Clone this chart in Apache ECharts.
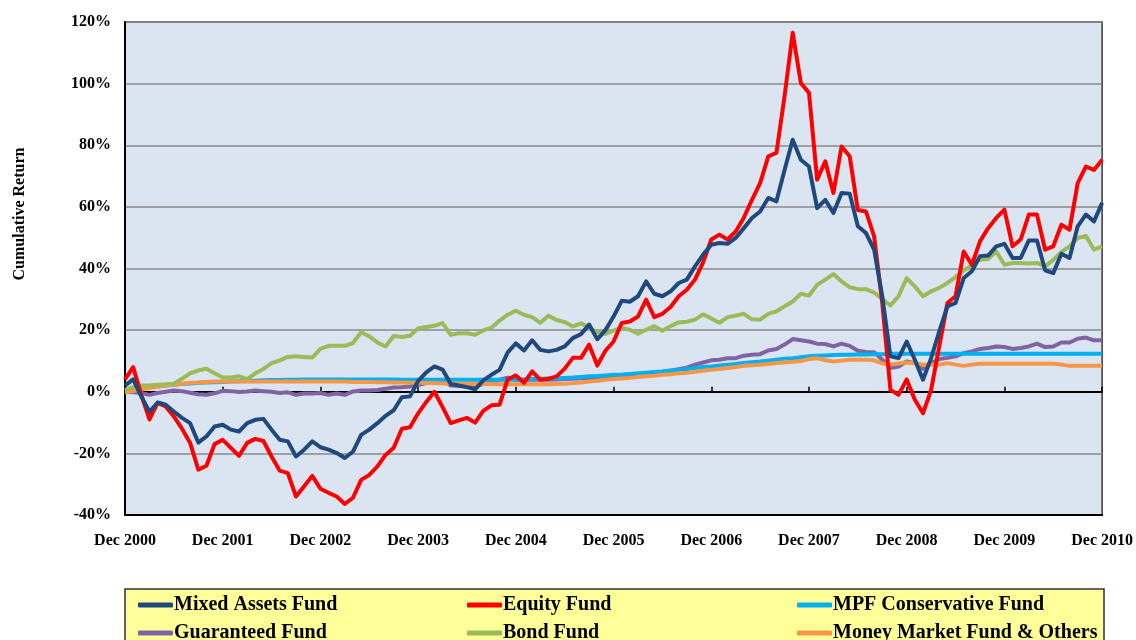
<!DOCTYPE html>
<html>
<head>
<meta charset="utf-8">
<script src="https://cdn.jsdelivr.net/npm/echarts@6/dist/echarts.min.js"></script>
<style>html,body{margin:0;padding:0;background:#fff;}#chart{width:1136px;height:640px;}</style>
</head>
<body>
<div id="chart"></div>
<script>
// Month labels Dec 2000 .. Dec 2010
const monthNames = ['Jan','Feb','Mar','Apr','May','Jun','Jul','Aug','Sep','Oct','Nov','Dec'];
const categories = [];
for (let i = 0; i <= 120; i++) {
  const m = (11 + i) % 12;
  const y = 2000 + Math.floor((11 + i) / 12);
  categories.push(monthNames[m] + ' ' + y);
}

const mixedAssets = [2, 4, -1.5, -6.5, -3.5, -4.2, -6.4, -8.5, -10.2, -16.5,
  -14.5, -11.3, -10.7, -12.3, -12.9, -10.2, -9.1, -8.8, -12.3, -15.6,
  -16.1, -21, -18.8, -16.1, -18, -18.8, -19.9, -21.5, -19.4, -14,
  -12.3, -10.2, -7.8, -6, -1.8, -1.5, 3.5, 6.3, 8.2, 7.2,
  2.5, 2, 1.5, 0.8, 3.7, 5.5, 7.1, 12.8, 15.7, 13.4,
  16.7, 13.6, 13.1, 13.6, 14.7, 17.4, 18.7, 21.8, 17, 20,
  24.4, 29.5, 29.2, 31, 35.8, 31.8, 31, 32.6, 35.3, 36.4,
  40.7, 44.5, 47.7, 48.3, 48, 49.9, 53.1, 56.4, 58.5, 62.9,
  61.8, 72, 81.8, 75.3, 73.1, 59.6, 62.3, 58, 64.5, 64.3,
  53.7, 51.5, 46.1, 31, 11.5, 10.9, 16.3, 10.4, 3.9, 10.9,
  19.6, 27.7, 28.8, 36.9, 39.1, 44, 44.2, 47.2, 48, 43.4,
  43.4, 49.1, 49.1, 39.4, 38.5, 44.8, 43.4, 53.7, 57.5, 55.3,
  61.3];

const equity = [4, 8, -1, -9, -3.6, -4.8, -8, -12, -16.6, -25.3,
  -24, -17, -15.6, -18.2, -20.8, -16.6, -15.3, -16, -21, -25.6,
  -26.4, -34, -30.7, -27.3, -31.5, -32.8, -34, -36.4, -34.4, -28.6,
  -27, -24.2, -20.5, -18.2, -12, -11.5, -7, -3.3, 0, -5,
  -10.2, -9.3, -8.5, -10, -6.2, -4.4, -4.2, 4, 5.3, 2.9,
  6.6, 3.9, 4.2, 5, 7.5, 11, 11, 15.3, 8.5, 13.3,
  16.3, 22.3, 22.8, 24.4, 29.9, 24.2, 25.3, 27.5, 31, 33.1,
  36.4, 42, 49.4, 51, 49.4, 52, 56.5, 62.3, 67.7, 76.4,
  77.5, 95.9, 116.5, 100.2, 97, 68.8, 74.8, 64.5, 79.6, 76.4,
  59, 58.5, 50.4, 28.8, 0.6, -1, 4, -2.6, -7, 0.6,
  14.7, 28.8, 31, 45.5, 41.2, 48.8, 53.1, 56.4, 59.1, 47.2,
  49.4, 57.5, 57.5, 46.1, 47.2, 54.2, 52.6, 67.7, 73.1, 72,
  75.3];

const mpfConservative = [0.5, 0.8, 1.2, 1.5, 1.8, 2.0, 2.3, 2.5, 2.7, 2.9,
  3.0, 3.1, 3.2, 3.3, 3.4, 3.5, 3.6, 3.7, 3.8, 3.8,
  3.9, 3.9, 4.0, 4.0, 4.0, 4.0, 4.0, 4.0, 4.0, 4.0,
  4.0, 4.0, 4.0, 4.0, 3.9, 3.9, 3.9, 3.9, 3.9, 3.9,
  3.9, 3.9, 3.9, 3.9, 3.9, 3.9, 3.9, 3.9, 3.9, 4.0,
  4.1, 4.2, 4.3, 4.4, 4.5, 4.6, 4.8, 5.0, 5.1, 5.3,
  5.5, 5.6, 5.8, 6.0, 6.2, 6.4, 6.6, 6.9, 7.1, 7.4,
  7.7, 8.0, 8.2, 8.5, 8.8, 9.0, 9.3, 9.6, 9.8, 10.1,
  10.4, 10.7, 10.9, 11.2, 11.5, 11.7, 11.8, 11.9, 12.0, 12.0,
  12.1, 12.1, 12.2, 12.2, 12.3, 12.3, 12.3, 12.3, 12.3, 12.3,
  12.3, 12.3, 12.3, 12.3, 12.3, 12.3, 12.3, 12.3, 12.3, 12.3,
  12.3, 12.3, 12.3, 12.3, 12.3, 12.3, 12.3, 12.3, 12.3, 12.3,
  12.3];

const guaranteed = [0, -0.2, -0.4, -1, -0.4, 0, 0.4, 0.2, -0.3, -0.8,
  -1, -0.5, 0.3, 0.2, -0.1, 0.1, 0.4, 0.2, 0, -0.4,
  -0.2, -1, -0.6, -0.6, -0.4, -1, -0.6, -1, 0.1, 0.4,
  0.4, 0.6, 1.0, 1.4, 1.5, 1.7, 2.2, 2.8, 3.4, 3.9,
  2.0, 1.9, 1.7, 1.9, 2.5, 3.2, 3.9, 4.6, 3.9, 3.9,
  3.9, 3.9, 3.9, 4.0, 4.1, 4.2, 4.4, 4.5, 4.6, 4.8,
  5.0, 5.1, 5.3, 5.5, 5.8, 6.0, 6.4, 6.8, 7.3, 7.8,
  8.8, 9.5, 10.2, 10.4, 10.9, 10.9, 11.7, 12.0, 12.2, 13.4,
  13.9, 15.3, 17.1, 16.7, 16.3, 15.6, 15.5, 14.7, 15.6, 14.9,
  13.3, 12.9, 12.8, 10.4, 7.7, 8.2, 9.8, 9.3, 7.4, 9.3,
  10.6, 11.0, 11.5, 12.5, 13.1, 13.9, 14.2, 14.7, 14.5, 13.9,
  14.2, 14.7, 15.6, 14.5, 14.7, 16.0, 16.0, 17.2, 17.6, 16.7,
  16.7];

const bond = [0.5, 1.5, 2, 2, 2.3, 2.4, 2.6, 4.2, 6, 6.9,
  7.5, 6, 4.6, 4.6, 5, 4.1, 6, 7.4, 9.3, 10.2,
  11.3, 11.5, 11.3, 11.1, 13.9, 14.9, 14.9, 14.9, 15.8, 19.3,
  18, 16, 14.7, 18.1, 17.8, 18.2, 20.6, 21, 21.4, 22.3,
  18.5, 19, 19, 18.5, 19.9, 20.8, 23.1, 25, 26.3, 25,
  24.2, 22.4, 24.7, 23.3, 22.6, 21.2, 22.2, 20.8, 19.3, 18.8,
  19.8, 20.8, 20.1, 18.8, 20.1, 21.3, 19.8, 21.3, 22.5, 22.7,
  23.4, 25.1, 23.8, 22.4, 24.2, 24.7, 25.3, 23.5, 23.4, 25.3,
  26.1, 27.7, 29.3, 31.8, 31.2, 34.7, 36.4, 38.2, 35.8, 33.9,
  33.3, 33.3, 32.2, 30.1, 28, 31, 36.9, 34.2, 31, 32.6,
  33.7, 35.3, 37.2, 39.4, 41, 42.9, 43.1, 45.5, 41.2, 41.8,
  41.8, 41.6, 41.8, 40.7, 42.8, 45.4, 47.2, 49.9, 50.6, 46.1,
  47.2];

const moneyMarket = [-0.2, 0.2, 0.8, 1.2, 1.6, 2.0, 2.3, 2.6, 2.9, 3.0,
  3.2, 3.3, 3.3, 3.3, 3.3, 3.3, 3.3, 3.3, 3.3, 3.3,
  3.3, 3.3, 3.3, 3.3, 3.3, 3.3, 3.3, 3.3, 3.2, 3.2,
  3.2, 3.1, 3.1, 3.0, 3.0, 2.9, 2.9, 2.8, 2.8, 2.7,
  2.7, 2.6, 2.6, 2.5, 2.5, 2.5, 2.4, 2.4, 2.4, 2.4,
  2.4, 2.4, 2.4, 2.5, 2.6, 2.8, 3.0, 3.3, 3.6, 3.9,
  4.1, 4.3, 4.5, 4.8, 5.0, 5.2, 5.5, 5.7, 6.0, 6.2,
  6.5, 6.8, 7.1, 7.4, 7.7, 8.0, 8.4, 8.6, 8.8, 9.0,
  9.3, 9.5, 9.7, 10.0, 10.6, 10.9, 10.2, 9.8, 10.1, 10.4,
  10.4, 10.4, 10.2, 9.2, 8.8, 9.2, 9.5, 9.3, 8.8, 8.8,
  8.8, 9.3, 8.8, 8.4, 8.8, 9.1, 9.1, 9.1, 9.1, 9.1,
  9.1, 9.1, 9.1, 9.1, 9.1, 8.8, 8.4, 8.4, 8.4, 8.4,
  8.4];

const yTicks = { min: -40, max: 120, interval: 20 };

const FONT = '"Liberation Serif", "Times New Roman", serif';

const seriesDefs = [
  { name: 'Mixed Assets Fund', data: mixedAssets, color: '#1F497D' },
  { name: 'Equity Fund', data: equity, color: '#FF0000' },
  { name: 'MPF Conservative Fund', data: mpfConservative, color: '#00B0F0' },
  { name: 'Guaranteed Fund', data: guaranteed, color: '#8064A2' },
  { name: 'Bond Fund', data: bond, color: '#9BBB59' },
  { name: 'Money Market Fund & Others', data: moneyMarket, color: '#F79646' }
];

// draw order: slow funds first so the volatile ones stay visible
const drawOrder = ['Guaranteed Fund', 'MPF Conservative Fund', 'Money Market Fund & Others', 'Bond Fund', 'Equity Fund', 'Mixed Assets Fund'];

// legend grid: 3 columns x 2 rows (row-major as in the original)
const legendCols = [138, 467, 797];
const legendRows = [595, 623];

const chart = echarts.init(document.getElementById('chart'));

const legends = seriesDefs.map(function (s, k) {
  return {
    orient: 'horizontal',
    left: legendCols[k % 3],
    top: legendRows[Math.floor(k / 3)],
    padding: 0,
    itemWidth: 35,
    itemHeight: 5,
    icon: 'roundRect',
    data: [s.name],
    textStyle: { fontFamily: FONT, fontWeight: 'bold', fontSize: 20, color: '#000', padding: [0, 0, 0, -4] },
    selectedMode: false
  };
});

const option = {
  backgroundColor: '#ffffff',
  animation: false,
  grid: {
    left: 125, right: 32, top: 22, bottom: 125,
    show: true, backgroundColor: '#DBE5F1', borderColor: '#3a3a3a', borderWidth: 1.5
  },
  legend: legends,
  graphic: [
    {
      type: 'rect', z: 0, zlevel: 0,
      shape: { x: 125, y: 589, width: 979, height: 60 },
      style: { fill: '#FFFF99', stroke: '#333333', lineWidth: 1.5 }
    },
    {
      type: 'text', z: 5,
      x: 20, y: 214, rotation: Math.PI / 2,
      style: { text: 'Cumulative Return', fontFamily: FONT, fontWeight: 'bold', fontSize: 16, fill: '#000', align: 'center', verticalAlign: 'middle' }
    }
  ],
  xAxis: [
    {
      type: 'category', data: categories, boundaryGap: false, position: 'bottom',
      axisLine: { onZero: false, show: true, lineStyle: { color: '#000', width: 2 } },
      axisTick: { show: false },
      axisLabel: { interval: 11, margin: 18, fontFamily: FONT, fontWeight: 'bold', fontSize: 16, color: '#000' },
      splitLine: { show: false }
    },
    {
      type: 'category', data: categories, boundaryGap: false, position: 'bottom',
      axisLine: { onZero: true, show: true, lineStyle: { color: '#000', width: 2 } },
      axisTick: { show: true, interval: 11, inside: true, length: 5, lineStyle: { color: '#000', width: 1.5 } },
      axisLabel: { show: false },
      splitLine: { show: false }
    }
  ],
  yAxis: {
    type: 'value', min: yTicks.min, max: yTicks.max, interval: yTicks.interval,
    axisLine: { show: true, lineStyle: { color: '#000', width: 2 } },
    axisTick: { show: false },
    axisLabel: { formatter: '{value}%', margin: 14, fontFamily: FONT, fontWeight: 'bold', fontSize: 16, color: '#000' },
    splitLine: { show: true, lineStyle: { color: '#8a8a8a', width: 1.5 } }
  },
  series: drawOrder.map(function (n) {
    const d = seriesDefs.find(function (s) { return s.name === n; });
    return {
      name: d.name, type: 'line', data: d.data, xAxisIndex: 0,
      showSymbol: false, symbol: 'none', smooth: false,
      color: d.color,
      lineStyle: { color: d.color, width: 4, join: 'round' },
      itemStyle: { color: d.color },
      z: 3
    };
  })
};

chart.setOption(option);
</script>
</body>
</html>
